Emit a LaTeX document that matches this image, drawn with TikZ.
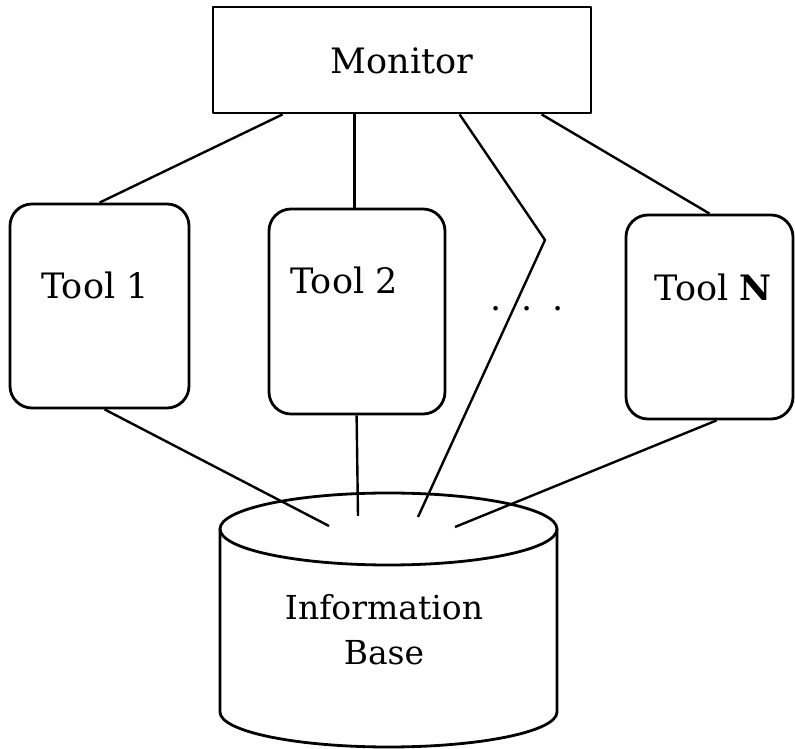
\documentclass[tikz,border=0pt]{standalone}
\usepackage{fontspec}
\setmainfont{DejaVu Serif}
\usetikzlibrary{calc}
\begin{document}
\begin{tikzpicture}[x=1pt,y=1pt,
  line width=2.8pt, line join=round,
  monbox/.style={draw, rectangle, minimum width=378pt, minimum height=106pt, inner sep=0pt},
  toolbox/.style={draw, rectangle, rounded corners=22pt, inner sep=0pt},
  lbl/.style={inner sep=0pt, font=\fontsize{35}{42}\selectfont},
  link/.style={draw, line width=2.4pt}
]
\useasboundingbox (0,0) rectangle (795,749);

% Monitor and tools
\node[monbox] (monitor) at (402,689) {};
\node[lbl] (montext) at (402,688) {Monitor};

\node[toolbox, minimum width=179pt, minimum height=204pt] (t1) at (99.5,443) {};
\node[toolbox, minimum width=176pt, minimum height=205pt] (t2) at (357,437.5) {};
\node[toolbox, minimum width=167pt, minimum height=204pt] (tN) at (709.5,432) {};
\node[lbl] (t1text) at (95,464) {Tool 1};
\node[lbl] (t2text) at (344,469) {Tool 2};
\node[lbl] (tNtext) at (713,462) {Tool \textbf{N}};
\node[lbl] (dots) at (527,440) {.\hspace{20pt}.\hspace{20pt}.};

% Information base cylinder
\draw (220,220) -- (220,37)
  arc[start angle=180, end angle=360, x radius=168.5, y radius=35]
  -- (557,220);
\draw (388.5,220) ellipse[x radius=168.5, y radius=36];
\node[lbl, font=\fontsize{33}{40}\selectfont] (infotext) at (384,142) {Information};
\node[lbl, font=\fontsize{33}{40}\selectfont] (basetext) at (384,96) {Base};

% connector end points on the top of the cylinder
\coordinate (e1) at (329,223);
\coordinate (e2) at (358,233);
\coordinate (e3) at (418,232);
\coordinate (e4) at (455,222);
\coordinate (bend) at (545,509);

% Monitor to tools
\draw[link] ([xshift=71pt]monitor.south west) -- ([xshift=91pt]t1.north west);
\draw[link] ([xshift=143pt]monitor.south west) -- ([xshift=87pt]t2.north west);
\draw[link] ([xshift=248pt]monitor.south west) -- (bend) -- (e3);
\draw[link] ([xshift=330pt]monitor.south west) -- (tN.north);

% tools to the information base
\draw[link] ([xshift=96pt]t1.south west) -- (e1);
\draw[link] ([xshift=89pt]t2.south west) -- (e2);
\draw[link] ([xshift=92pt]tN.south west) -- (e4);
\end{tikzpicture}
\end{document}
